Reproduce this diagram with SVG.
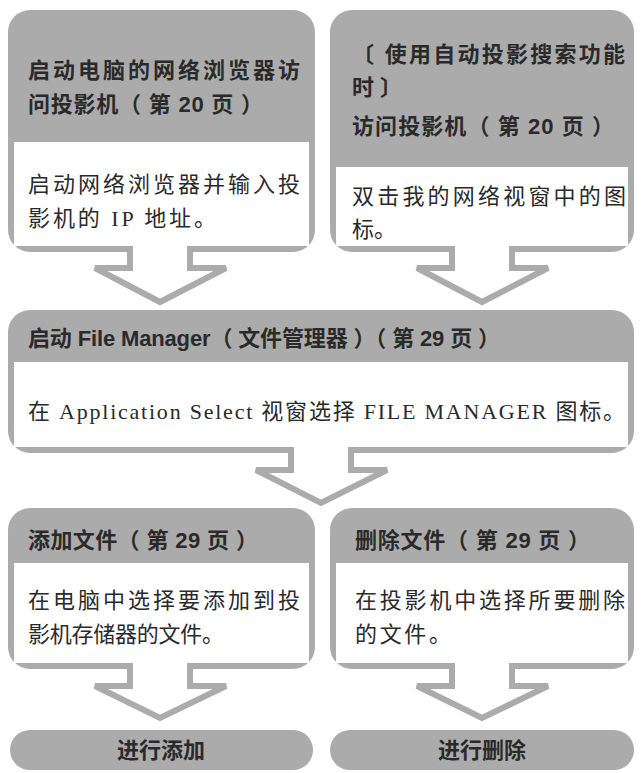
<svg xmlns="http://www.w3.org/2000/svg" width="642" height="773" viewBox="0 0 642 773">
<style>
.g{fill:#ababab}
.w{fill:#fff}
.ar{fill:#fff;stroke:#ababab;stroke-width:6;stroke-linejoin:miter}
.h{font-family:"Liberation Sans","Noto Sans CJK SC",sans-serif;font-size:22px;font-weight:bold;fill:#2a2a2a}
.b{font-family:"Liberation Serif","Noto Sans CJK SC",serif;font-size:22px;fill:#2a2a2a}
</style>
<rect width="642" height="773" fill="#fff"/>
<g id="connectors">
<path class="ar" d="M130,247 V268 H95 L160,302 L226,268 H190 V247"/>
<path class="ar" d="M452,247 V268 H417 L482,302 L548,268 H512 V247"/>
<path class="ar" d="M291,449 V470 H256 L321,503 L387,470 H351 V449"/>
<path class="ar" d="M130,665 V686 H95 L160,718 L226,686 H190 V665"/>
<path class="ar" d="M452,665 V686 H417 L482,718 L548,686 H512 V665"/>
</g>
<g id="n1">
<rect class="g" x="8" y="10" width="307" height="242" rx="22"/>
<rect class="w" x="14" y="142" width="295" height="104"/>
<path class="w" d="M133,240 H187 V252 H133Z"/>
<text class="h" x="28" y="78" textLength="272" lengthAdjust="spacing">启动电脑的网络浏览器访</text>
<text class="h" x="28" y="112" textLength="235" lengthAdjust="spacing">问投影机（ 第 20 页 ）</text>
<text class="b" x="28" y="192" textLength="272" lengthAdjust="spacing">启动网络浏览器并输入投</text>
<text class="b" x="28" y="226" textLength="188" lengthAdjust="spacing">影机的 IP 地址。</text>
</g>
<g id="n2">
<rect class="g" x="330" y="10" width="304" height="242" rx="22"/>
<rect class="w" x="336" y="167" width="292" height="79"/>
<path class="w" d="M455,240 H509 V252 H455Z"/>
<text class="h" x="352" y="62" textLength="273" lengthAdjust="spacing">〔 使用自动投影搜索功能</text>
<text class="h" x="352" y="95">时 〕</text>
<text class="h" x="352" y="134" textLength="262" lengthAdjust="spacing">访问投影机（ 第 20 页 ）</text>
<text class="b" x="352" y="204" textLength="274" lengthAdjust="spacing">双击我的网络视窗中的图</text>
<text class="b" x="352" y="237" textLength="44" lengthAdjust="spacing">标。</text>
</g>
<g id="n3">
<rect class="g" x="8" y="310" width="626" height="143" rx="22"/>
<rect class="w" x="14" y="362" width="614" height="85"/>
<path class="w" d="M294,440 H348 V453 H294Z"/>
<text class="h" x="28" y="346" textLength="472" lengthAdjust="spacing">启动 File Manager（ 文件管理器 ）（ 第 29 页 ）</text>
<text class="b" x="28" y="419" textLength="597" lengthAdjust="spacing">在 Application Select 视窗选择 FILE MANAGER 图标。</text>
</g>
<g id="n4">
<rect class="g" x="8" y="508" width="307" height="161" rx="22"/>
<rect class="w" x="14" y="563" width="295" height="100"/>
<path class="w" d="M133,658 H187 V669 H133Z"/>
<text class="h" x="28" y="548" textLength="230" lengthAdjust="spacing">添加文件（ 第 29 页 ）</text>
<text class="b" x="28" y="608" textLength="272" lengthAdjust="spacing">在电脑中选择要添加到投</text>
<text class="b" x="28" y="642" textLength="196" lengthAdjust="spacing">影机存储器的文件。</text>
</g>
<g id="n5">
<rect class="g" x="330" y="508" width="304" height="161" rx="22"/>
<rect class="w" x="336" y="563" width="292" height="100"/>
<path class="w" d="M455,658 H509 V669 H455Z"/>
<text class="h" x="355" y="548" textLength="235" lengthAdjust="spacing">删除文件（ 第 29 页 ）</text>
<text class="b" x="355" y="608" textLength="270" lengthAdjust="spacing">在投影机中选择所要删除</text>
<text class="b" x="355" y="642" textLength="96" lengthAdjust="spacing">的文件。</text>
</g>
<g id="n6">
<rect class="g" x="10" y="730" width="303" height="40" rx="20"/>
<text class="h" x="161" y="758" text-anchor="middle">进行添加</text>
</g>
<g id="n7">
<rect class="g" x="330" y="730" width="304" height="40" rx="20"/>
<text class="h" x="482" y="758" text-anchor="middle">进行删除</text>
</g>
</svg>
